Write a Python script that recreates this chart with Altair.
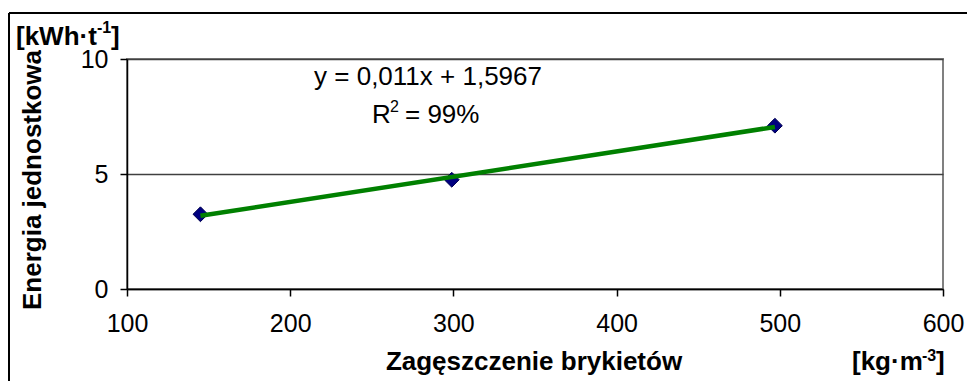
import altair as alt
import pandas as pd

# Data
density = [145, 299, 497]          # kg·m^-3
energy = [3.25, 4.75, 7.1]         # kWh·t^-1
x_ticks = [100, 200, 300, 400, 500, 600]
y_ticks = [0, 5, 10]
eq_text = "y = 0,011x + 1,5967"

FONT = "Liberation Sans"
df = pd.DataFrame({"x": density, "y": energy})

xs = alt.Scale(domain=[100, 600], nice=False, zero=False)
ys = alt.Scale(domain=[0, 10], nice=False)

base = alt.Chart(df)

points = base.mark_point(shape="diamond", filled=True, size=220, color="#000080",
                         stroke="#000050", strokeWidth=1, opacity=1).encode(
    x=alt.X("x:Q", scale=xs,
            axis=alt.Axis(values=x_ticks, title=None, grid=False, labelFlush=False,
                          domainColor="#000000", domainWidth=1.5, tickColor="#000000",
                          tickWidth=1.5, tickSize=7, labelFontSize=25, labelFont=FONT,
                          labelColor="#000000", labelPadding=15)),
    y=alt.Y("y:Q", scale=ys,
            axis=alt.Axis(values=y_ticks, title=None, grid=True, gridColor="#404040",
                          gridWidth=1.3, labelFlush=False,
                          domainColor="#000000", domainWidth=1.5, tickColor="#000000",
                          tickWidth=1.5, tickSize=7, labelFontSize=25, labelFont=FONT,
                          labelColor="#000000", labelPadding=12)),
)

trend = base.transform_regression("x", "y", method="linear").mark_line(
    color="#008000", strokeWidth=4.5).encode(
    x=alt.X("x:Q", scale=xs), y=alt.Y("y:Q", scale=ys))


def txt(s, x, y, size=26, bold=False, align="left", angle=0):
    return alt.Chart(pd.DataFrame({"t": [s]})).mark_text(
        font=FONT, fontSize=size, fontWeight="bold" if bold else "normal",
        align=align, baseline="alphabetic", angle=angle, color="#000000").encode(
        x=alt.value(x), y=alt.value(y), text="t:N")


frame = alt.Chart(pd.DataFrame({"a": [0]})).mark_rule(color="#000000", strokeWidth=2)
frame_left = frame.encode(x=alt.value(-118), y=alt.value(-46), y2=alt.value(340))
frame_top = frame.encode(x=alt.value(-118), x2=alt.value(860), y=alt.value(-46))

texts = [
    txt("[kWh·t", -111, -14, bold=True),
    txt("-1", -30, -26, size=16, bold=True),
    txt("]", -16, -14, bold=True),
    txt("Energia jednostkowa", -86, 121, bold=True, align="center", angle=270),
    txt("Zagęszczenie brykietów", 407, 311, bold=True, align="center"),
    txt("[kg·m", 725, 311, bold=True),
    txt("-3", 795, 302, size=16, bold=True),
    txt("]", 809, 311, bold=True),
    txt(eq_text, 301, 26, align="center"),
    txt("R", 245, 64),
    txt("2", 263, 53, size=16),
    txt("= 99%", 278, 64),
]

chart = alt.layer(points, trend, frame_left, frame_top, *texts).properties(
    width=816, height=230,
    padding={"left": 119, "top": 51, "right": 24, "bottom": 92},
    autosize=alt.AutoSizeParams(type="none"),
    background="#ffffff",
).configure_view(stroke="#808080", strokeWidth=2)

chart.save("out.html", embed_options={"renderer": "svg", "actions": False})
